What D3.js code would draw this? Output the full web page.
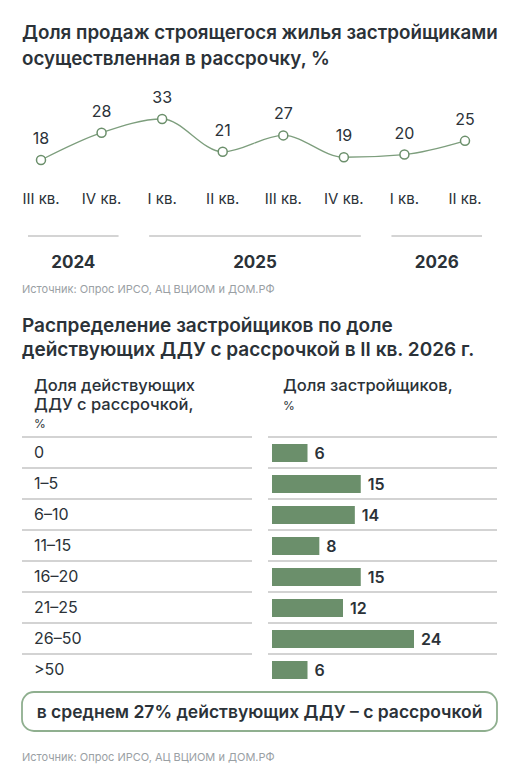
<!DOCTYPE html>
<html><head><meta charset="utf-8">
<script src="https://cdn.jsdelivr.net/npm/d3@7"></script>
<style>body{margin:0;background:#fff}svg{font-family:Inter,"Noto Sans",sans-serif}</style>
</head><body><svg width="523" height="767"></svg>
<script>
const quarters=["III кв.","IV кв.","I кв.","II кв.","III кв.","IV кв.","I кв.","II кв."];
const lineValues=[18,28,33,21,27,19,20,25];
const years=[{y:"2024",from:0,to:1},{y:"2025",from:2,to:5},{y:"2026",from:6,to:7}];
const bins=["0","1–5","6–10","11–15","16–20","21–25","26–50",">50"];
const barValues=[6,15,14,8,15,12,24,6];
const dark="#2b3238",green="#6b8f6b",gray="#9aa0a4";
const svg=d3.select("svg");
function txt(x,y,s,o={}){return svg.append("text").attr("x",x).attr("y",y).text(s)
 .attr("font-size",o.fs||16).attr("font-weight",o.fw||400).attr("fill",o.c||dark).attr("text-anchor",o.a||"start");}
txt(22,39,"Доля продаж строящегося жилья застройщиками",{fs:18.8,fw:600});
txt(22,65,"осуществленная в рассрочку, %",{fs:18.8,fw:600});
const x=d3.scalePoint().domain(d3.range(8)).range([41,465]);
const y=d3.scaleLinear().domain([18,33]).range([160,119]);
svg.append("path").datum(lineValues).attr("fill","none").attr("stroke","#7d9e7d").attr("stroke-width",1.3)
 .attr("d",d3.line().x((d,i)=>x(i)).y(d=>y(d)).curve(d3.curveMonotoneX));
lineValues.forEach((v,i)=>{
 svg.append("circle").attr("cx",x(i)).attr("cy",y(v)).attr("r",4.5).attr("fill","#fff").attr("stroke","#6b8f6b").attr("stroke-width",1.5);
 txt(x(i),y(v)-16,v,{fs:16,a:"middle"});
 txt(x(i),204,quarters[i],{fs:15,a:"middle"});
});
years.forEach(g=>{
 const x0=x(g.from)-13,x1=x(g.to)+17;
 svg.append("line").attr("x1",x0).attr("x2",x1).attr("y1",236).attr("y2",236).attr("stroke","#aaa").attr("stroke-width",1.2);
 txt((x0+x1)/2,268,g.y,{fs:17,fw:700,a:"middle"});
});
txt(22,293,"Источник: Опрос ИРСО, АЦ ВЦИОМ и ДОМ.РФ",{fs:11,c:gray});
txt(22,332,"Распределение застройщиков по доле",{fs:19,fw:600});
txt(22,356,"действующих ДДУ с рассрочкой в II кв. 2026 г.",{fs:19,fw:600});
txt(34,391,"Доля действующих",{fs:16.5,fw:500});
txt(34,410,"ДДУ с рассрочкой,",{fs:16.5,fw:500});
txt(34,428,"%",{fs:12,fw:400});
txt(283,391,"Доля застройщиков,",{fs:16.5,fw:500});
txt(283,410,"%",{fs:12,fw:400});
const row=d3.scaleBand().domain(d3.range(8)).range([437,685]);
const bx=d3.scaleLinear().domain([0,24]).range([272,414]);
bins.forEach((b,i)=>{
 const y0=row(i);
 svg.append("line").attr("x1",22).attr("x2",252).attr("y1",y0).attr("y2",y0).attr("stroke","#c4c4c4").attr("stroke-width",1.5);
 svg.append("line").attr("x1",268).attr("x2",497).attr("y1",y0).attr("y2",y0).attr("stroke","#c4c4c4").attr("stroke-width",1.5);
 txt(34,y0+21,b,{fs:16});
 svg.append("rect").attr("x",bx(0)).attr("y",y0+7).attr("width",bx(barValues[i])-bx(0)).attr("height",18).attr("fill",green);
 txt(bx(barValues[i])+7,y0+22,barValues[i],{fs:16,fw:600});
});
svg.append("rect").attr("x",22).attr("y",692).attr("width",475).attr("height",39).attr("rx",12).attr("fill","none").attr("stroke","#8faf8f").attr("stroke-width",1.8);
txt(259.5,718,"в среднем 27% действующих ДДУ – с рассрочкой",{fs:17.5,fw:600,a:"middle"});
txt(22,761,"Источник: Опрос ИРСО, АЦ ВЦИОМ и ДОМ.РФ",{fs:11,c:gray});
</script></body></html>
